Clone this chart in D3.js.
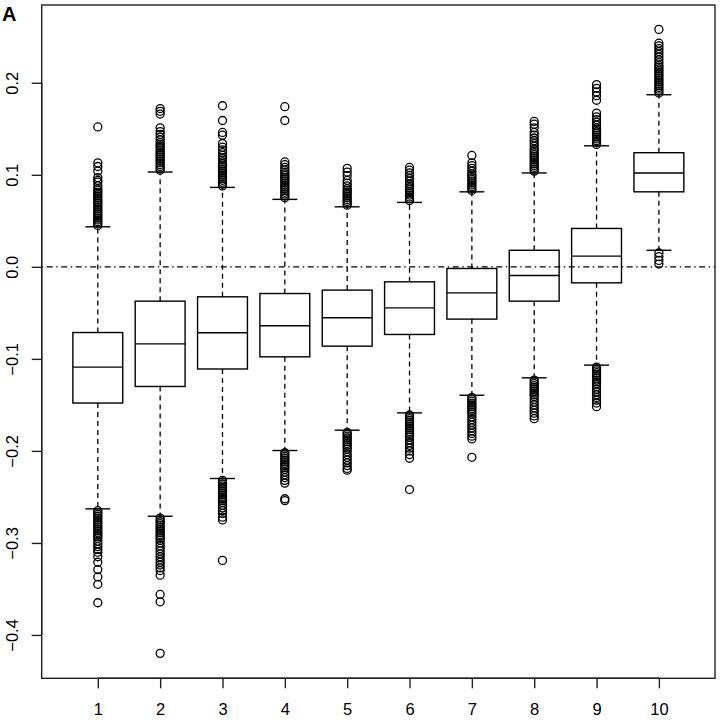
<!DOCTYPE html>
<html>
<head>
<meta charset="utf-8">
<script src="https://cdn.jsdelivr.net/npm/d3@7"></script>
<style>
  body { margin: 0; background: #fff; }
  svg { font-family: "Liberation Sans", Arial, sans-serif; }
</style>
</head>
<body>
<div id="chart"></div>
<script>
// box statistics per group
const groups = [1, 2, 3, 4, 5, 6, 7, 8, 9, 10];
const lowerWhisker = [-0.263, -0.271, -0.230, -0.1996, -0.1775, -0.1587, -0.1395, -0.1206, -0.1068, 0.018];
const q1 = [-0.148, -0.130, -0.111, -0.0978, -0.0862, -0.0735, -0.0568, -0.0373, -0.0174, 0.0815];
const medians = [-0.109, -0.0837, -0.0717, -0.064, -0.0554, -0.0446, -0.0283, -0.0094, 0.0116, 0.102];
const q3 = [-0.0714, -0.0373, -0.0326, -0.029, -0.0253, -0.0163, -0.0018, 0.018, 0.0417, 0.124];
const upperWhisker = [0.0435, 0.103, 0.0863, 0.0733, 0.0652, 0.070, 0.0815, 0.102, 0.1315, 0.187];

const outliers = [
  [0.045,0.047,0.049,0.051,0.053,0.055,0.057,0.059,0.061,0.063,0.065,0.067,0.069,0.071,0.073,0.075,0.077,0.079,0.081,0.083,0.085,0.088,0.092,0.094,0.097,0.104,0.109,0.113,0.152,
   -0.265,-0.267,-0.269,-0.271,-0.273,-0.275,-0.277,-0.279,-0.281,-0.283,-0.285,-0.287,-0.289,-0.291,-0.293,-0.295,-0.298,-0.301,-0.304,-0.307,-0.310,-0.315,-0.321,-0.329,-0.337,-0.345,-0.365],
  [0.105,0.107,0.109,0.111,0.113,0.115,0.117,0.119,0.121,0.123,0.125,0.127,0.129,0.131,0.133,0.135,0.138,0.141,0.144,0.147,0.151,0.166,0.169,0.172,
   -0.273,-0.275,-0.277,-0.279,-0.281,-0.283,-0.285,-0.287,-0.289,-0.291,-0.293,-0.295,-0.297,-0.300,-0.303,-0.306,-0.309,-0.312,-0.315,-0.318,-0.321,-0.324,-0.327,-0.330,-0.335,-0.356,-0.364,-0.420],
  [0.088,0.090,0.092,0.094,0.096,0.098,0.100,0.102,0.104,0.106,0.108,0.110,0.112,0.114,0.116,0.118,0.121,0.124,0.127,0.130,0.134,0.143,0.146,0.159,0.175,
   -0.232,-0.234,-0.236,-0.238,-0.240,-0.242,-0.244,-0.246,-0.248,-0.250,-0.252,-0.254,-0.256,-0.259,-0.262,-0.265,-0.268,-0.272,-0.275,-0.319],
  [0.075,0.077,0.079,0.081,0.083,0.085,0.087,0.089,0.091,0.093,0.095,0.097,0.099,0.101,0.103,0.105,0.108,0.111,0.114,0.159,0.174,
   -0.202,-0.204,-0.206,-0.208,-0.210,-0.212,-0.214,-0.216,-0.218,-0.220,-0.223,-0.226,-0.229,-0.232,-0.235,-0.252,-0.254],
  [0.067,0.069,0.071,0.073,0.075,0.077,0.079,0.081,0.083,0.085,0.088,0.091,0.094,0.099,0.103,0.107,
   -0.180,-0.182,-0.184,-0.186,-0.188,-0.190,-0.192,-0.194,-0.196,-0.198,-0.201,-0.204,-0.207,-0.210,-0.213,-0.216,-0.219,-0.221],
  [0.072,0.074,0.076,0.078,0.080,0.082,0.084,0.086,0.088,0.090,0.093,0.096,0.099,0.102,0.105,0.108,
   -0.161,-0.163,-0.165,-0.167,-0.169,-0.171,-0.173,-0.175,-0.177,-0.179,-0.181,-0.183,-0.185,-0.188,-0.191,-0.194,-0.197,-0.200,-0.204,-0.208,-0.242],
  [0.083,0.085,0.087,0.089,0.091,0.093,0.095,0.097,0.099,0.101,0.104,0.107,0.110,0.113,0.121,
   -0.142,-0.144,-0.146,-0.148,-0.150,-0.152,-0.154,-0.156,-0.158,-0.160,-0.163,-0.166,-0.169,-0.172,-0.175,-0.178,-0.181,-0.184,-0.187,-0.207],
  [0.104,0.106,0.108,0.110,0.112,0.114,0.116,0.118,0.120,0.122,0.124,0.126,0.128,0.131,0.134,0.137,0.140,0.143,0.146,0.151,0.155,0.158,
   -0.123,-0.125,-0.127,-0.129,-0.131,-0.133,-0.135,-0.137,-0.139,-0.141,-0.144,-0.147,-0.150,-0.153,-0.156,-0.159,-0.162,-0.165],
  [0.133,0.135,0.137,0.139,0.141,0.143,0.145,0.147,0.149,0.151,0.154,0.157,0.160,0.163,0.167,0.181,0.186,0.190,0.194,0.198,
   -0.109,-0.111,-0.113,-0.115,-0.117,-0.119,-0.121,-0.123,-0.125,-0.127,-0.130,-0.133,-0.136,-0.139,-0.142,-0.145,-0.148,-0.152],
  [0.189,0.191,0.193,0.195,0.197,0.199,0.201,0.203,0.205,0.207,0.209,0.211,0.213,0.215,0.217,0.219,0.222,0.225,0.228,0.231,0.234,0.237,0.240,0.243,0.258,
   0.015,0.011,0.007,0.003]
];

const yTicks = [-0.4, -0.3, -0.2, -0.1, 0.0, 0.1, 0.2];
const panelLabel = "A";

// layout
const width = 720, height = 720;
const plot = {left: 41.7, right: 715, top: 5, bottom: 678.3};
const fontFamily = "'Liberation Sans', Arial, sans-serif";

const svg = d3.select("#chart")
  .append("svg")
  .attr("width", width)
  .attr("height", height);

const x = d3.scaleLinear().domain([0.1, 10.9]).range([plot.left, plot.right]);
const y = d3.scaleLinear().domain([-0.4471, 0.2845]).range([plot.bottom, plot.top]);

const boxW = 0.8, capW = 0.4;

// whiskers (dashed), staples, boxes, outliers
const g = svg.append("g");
groups.forEach((d, i) => {
  const cx = x(d);
  g.append("line")
    .attr("x1", cx).attr("x2", cx)
    .attr("y1", y(q3[i])).attr("y2", y(upperWhisker[i]))
    .attr("stroke", "#000").attr("stroke-width", 1.3)
    .attr("stroke-dasharray", "5,4");
  g.append("line")
    .attr("x1", cx).attr("x2", cx)
    .attr("y1", y(q1[i])).attr("y2", y(lowerWhisker[i]))
    .attr("stroke", "#000").attr("stroke-width", 1.3)
    .attr("stroke-dasharray", "5,4");
  [upperWhisker[i], lowerWhisker[i]].forEach(v => {
    g.append("line")
      .attr("x1", x(d - capW / 2)).attr("x2", x(d + capW / 2))
      .attr("y1", y(v)).attr("y2", y(v))
      .attr("stroke", "#000").attr("stroke-width", 1.4);
  });
  g.append("rect")
    .attr("x", x(d - boxW / 2))
    .attr("y", y(q3[i]))
    .attr("width", x(d + boxW / 2) - x(d - boxW / 2))
    .attr("height", y(q1[i]) - y(q3[i]))
    .attr("fill", "none")
    .attr("stroke", "#000").attr("stroke-width", 1.4);
  g.append("line")
    .attr("x1", x(d - boxW / 2)).attr("x2", x(d + boxW / 2))
    .attr("y1", y(medians[i])).attr("y2", y(medians[i]))
    .attr("stroke", "#000").attr("stroke-width", 1.4);
  g.selectAll(null)
    .data(outliers[i])
    .enter()
    .append("circle")
    .attr("cx", cx)
    .attr("cy", v => y(v))
    .attr("r", 4)
    .attr("fill", "none")
    .attr("stroke", "#000")
    .attr("stroke-width", 1.3);
});

// horizontal reference line at 0 (dot-dash)
svg.append("line")
  .attr("x1", plot.left).attr("x2", plot.right)
  .attr("y1", y(0)).attr("y2", y(0))
  .attr("stroke", "#000").attr("stroke-width", 1.2)
  .attr("stroke-dasharray", "1.5,3.5,6,3.5");

// frame
svg.append("rect")
  .attr("x", plot.left).attr("y", plot.top)
  .attr("width", plot.right - plot.left)
  .attr("height", plot.bottom - plot.top)
  .attr("fill", "none")
  .attr("stroke", "#222").attr("stroke-width", 1.4);

// axes
const xAxis = d3.axisBottom(x).tickValues(groups).tickSize(10).tickFormat(d3.format("d"));
const yAxis = d3.axisLeft(y).tickValues(yTicks).tickSize(10).tickFormat(d3.format(".1f"));

const xg = svg.append("g")
  .attr("transform", `translate(0,${plot.bottom})`)
  .call(xAxis);
xg.select(".domain").attr("d", `M${x(1)},0H${x(10)}`);
xg.selectAll("text")
  .style("font-family", fontFamily)
  .style("font-size", "16.5px")
  .attr("fill", "#000")
  .attr("dy", null)
  .attr("y", 37);
xg.selectAll("line, path").attr("stroke", "#222").attr("stroke-width", 1.4);

const yg = svg.append("g")
  .attr("transform", `translate(${plot.left},0)`)
  .call(yAxis);
yg.select(".domain").attr("d", `M0,${y(-0.4)}V${y(0.2)}`);
yg.selectAll("line, path").attr("stroke", "#222").attr("stroke-width", 1.4);
yg.selectAll("text")
  .style("font-family", fontFamily)
  .style("font-size", "16.5px")
  .attr("fill", "#000")
  .attr("text-anchor", "middle")
  .attr("x", null).attr("y", null).attr("dy", null)
  .attr("transform", `translate(${18 - plot.left},0) rotate(-90)`);

// panel label
svg.append("text")
  .attr("x", 2)
  .attr("y", 20.5)
  .style("font-family", fontFamily)
  .style("font-size", "20px")
  .style("font-weight", "bold")
  .text(panelLabel);
</script>
</body>
</html>
